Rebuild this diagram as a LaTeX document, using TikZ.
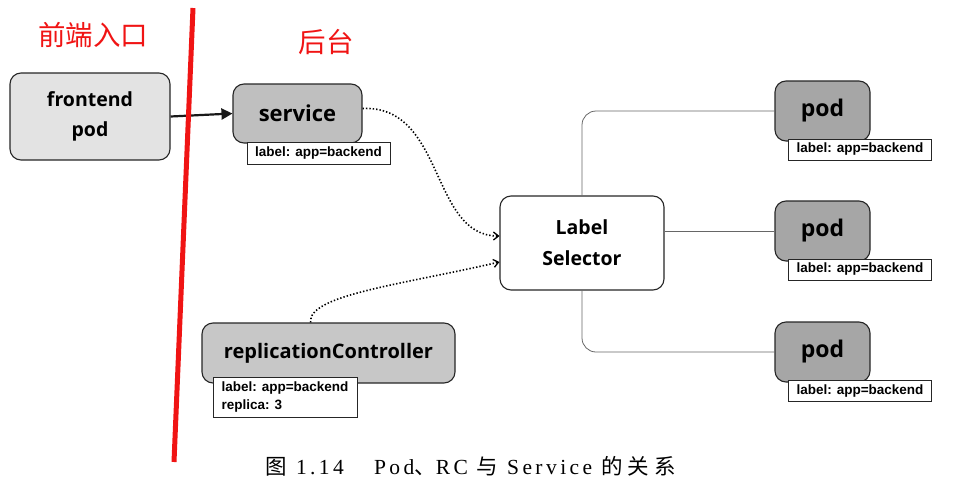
\documentclass[tikz,border=0pt]{standalone}
\usepackage{fontspec}
\setmainfont{Liberation Serif}
\newfontfamily\capfont[LetterSpace=16]{Liberation Serif}
\newfontfamily\boxfont{Open Sans}
\newfontfamily\lblfont{Liberation Sans}
\newfontfamily\cjk{Noto Sans CJK SC}
\usetikzlibrary{arrows.meta}
\definecolor{redline}{RGB}{240,20,20}
\tikzset{
  box/.style={draw=black!85, line width=1.1pt, rounded corners=11pt, inner sep=0pt, align=center},
  tag/.style={draw=black!85, fill=white, line width=0.9pt, inner sep=0pt, font=\lblfont\bfseries\fontsize{13.5}{15}\selectfont, align=left, anchor=center},
  link/.style={draw=black!60, line width=0.8pt, rounded corners=14pt},
  dots/.style={line width=1.6pt, dash pattern=on 1.4pt off 2pt, -{Straight Barb[length=5pt,width=8pt,line width=1.3pt]}},
  redtxt/.style={text=redline, font=\cjk\fontsize{27.5}{30}\selectfont, inner sep=0pt}
}
\begin{document}
\begin{tikzpicture}[x=1pt,y=-1pt]
\useasboundingbox (0,0) rectangle (975,490);

% red titles
\node[redtxt] (t1) at (93,35) {前端入口};
\node[redtxt] (t2) at (326,42) {后台};

% boxes
\node[box, fill=black!11, minimum width=160pt, minimum height=87pt, font=\boxfont\bfseries\fontsize{19.5}{30}\selectfont] (fe) at (90,116.5) {frontend\\pod};
\node[box, fill=black!25, minimum width=129pt, minimum height=59pt, font=\boxfont\bfseries\fontsize{22}{26}\selectfont] (svc) at (297.5,113.5) {service};
\node[tag, minimum width=143pt, minimum height=22pt] (svcl) at (318.5,153) {label: app=backend};

\node[box, fill=white, minimum width=164pt, minimum height=94pt, font=\boxfont\bfseries\fontsize{19.5}{31}\selectfont] (ls) at (582,243) {Label\\Selector};

\node[box, fill=black!22, minimum width=253pt, minimum height=60pt, font=\boxfont\bfseries\fontsize{20}{26}\selectfont] (rc) at (328.5,353) {replicationController};
\node[tag, minimum width=144pt, minimum height=40pt, font=\lblfont\bfseries\fontsize{13.5}{18}\selectfont] (rcl) at (285,397) {label: app=backend\\replica: 3};

\foreach \i/\y in {1/111,2/231,3/352}{
  \node[box, fill=black!35, minimum width=95pt, minimum height=60pt, font=\boxfont\bfseries\fontsize{23}{28}\selectfont] (pod\i) at (822.5,\y) {pod};
}
\foreach \i/\y in {1/149.5,2/269.5,3/391}{
  \node[tag, minimum width=143pt, minimum height=21pt] (podl\i) at (860,\y) {label: app=backend};
}

% connectors
\draw[line width=2.2pt, black!90, -{Triangle[length=11pt,width=11pt]}] (fe.east) -- (svc.west);
\draw[dots] ([yshift=5pt]svc.east) .. controls (445,105) and (430,236) .. ([yshift=7pt]ls.west);
\draw[dots] ([xshift=-18pt]rc.north) .. controls (308,295) and (400,285) .. ([yshift=-19pt]ls.west);

\draw[link] (ls.north) |- (pod1.west);
\draw[link] (ls.east |- pod2.west) -- (pod2.west);
\draw[link] (ls.south) |- (pod3.west);

% red divider
\coordinate (rtop) at (193,8);
\coordinate (rbot) at (174,462);
\draw[redline, line width=5pt] (rtop) -- (rbot);

% caption
\node[inner sep=0pt, font=\capfont\fontsize{21.5}{24}\selectfont] (cap) at (471,466) {{\cjk 图} 1.14\hspace{1.4em}Pod{\cjk 、}RC {\cjk 与} Service {\cjk 的\hspace{0.25em}关\hspace{0.25em}系}};
\end{tikzpicture}
\end{document}
